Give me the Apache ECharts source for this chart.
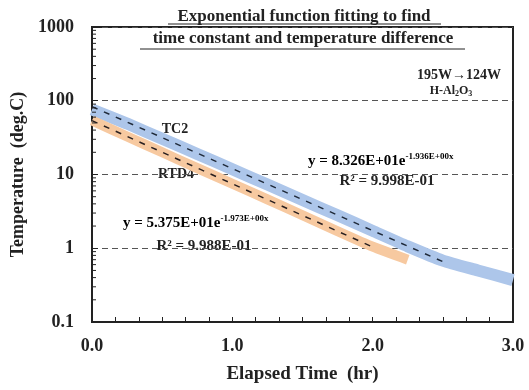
<!DOCTYPE html>
<html><head><meta charset="utf-8">
<script src="https://cdn.jsdelivr.net/npm/echarts@6/dist/echarts.min.js"></script>
<style>html,body{margin:0;padding:0;background:#fff}#c{width:529px;height:390px}</style>
</head><body><div id="c"></div>
<script>
// Measured band data (hr, deg.C)
const tc2Times = [0, 0.25, 0.5, 0.75, 1.0, 1.25, 1.5, 1.75, 2.0, 2.25, 2.5, 2.75, 3.0];
const tc2Temps = [76, 49, 30.5, 19, 11.8, 7.3, 4.5, 2.8, 1.72, 1.06, 0.68, 0.5, 0.37];
const rtd4Times = [0, 0.25, 0.5, 0.75, 1.0, 1.25, 1.5, 1.75, 2.0, 2.25];
const rtd4Temps = [54, 32.8, 20, 12.2, 7.5, 4.6, 2.8, 1.7, 1.05, 0.7];
// Fit lines (straight on log axis): endpoints
const tc2FitTimes = [0, 2.54];
const tc2FitTemps = [83.26, 0.61];
const rtd4FitTimes = [0, 2.02];
const rtd4FitTemps = [53.75, 1.0];
// Axis ticks
const yMajor = [0.1, 1, 10, 100, 1000];
const yMinorMult = [2, 3, 4, 5, 6, 7, 8, 9];
const xLabels = ['0.0', '1.0', '2.0', '3.0'];

const zip = (a, b) => a.map((v, i) => [v, b[i]]);
const minorVals = [];
yMajor.slice(0, -1).forEach(d => yMinorMult.forEach(m => minorVals.push([0, +(d * m).toPrecision(3)])));

const serif = '"Liberation Serif", "Times New Roman", serif';
const chart = echarts.init(document.getElementById('c'), null, {renderer: 'canvas'});
const eqRich = {
  b: {fontFamily: serif, fontWeight: 'bold', fontSize: 15, color: '#222'},
  s: {fontFamily: serif, fontWeight: 'bold', fontSize: 9, color: '#222', verticalAlign: 'top', padding: [0, 0, 9, 0]}
};
const txt = (size, extra) => Object.assign({fontFamily: serif, fontWeight: 'bold', fontSize: size, fill: '#222', align: 'center', verticalAlign: 'middle'}, extra || {});
chart.setOption({
  animation: false,
  grid: {left: 92, top: 27, right: 16, bottom: 68, show: true, borderColor: '#222', borderWidth: 2, backgroundColor: 'transparent'},
  xAxis: {
    type: 'value', min: 0, max: 3, interval: 1,
    name: 'Elapsed Time  (hr)', nameLocation: 'middle', nameGap: 43,
    nameTextStyle: {fontFamily: serif, fontWeight: 'bold', fontSize: 19, color: '#222'},
    axisLine: {lineStyle: {color: '#222', width: 2}},
    axisTick: {inside: true, length: 5, lineStyle: {color: '#222'}},
    minorTick: {show: true, splitNumber: 6, length: 5, lineStyle: {color: '#222'}},
    splitLine: {show: false},
    axisLabel: {margin: 15, fontFamily: serif, fontWeight: 'bold', fontSize: 18, color: '#222',
      formatter: v => xLabels[Math.round(v)]}
  },
  yAxis: {
    type: 'log', logBase: 10, min: 0.1, max: 1000,
    name: 'Temperature  (deg.C)', nameLocation: 'middle', nameGap: 59,
    nameTextStyle: {fontFamily: serif, fontWeight: 'bold', fontSize: 18, color: '#222'},
    axisLine: {show: true, lineStyle: {color: '#222', width: 2}},
    axisTick: {show: true, inside: true, length: 6, lineStyle: {color: '#222'}},
    splitLine: {show: true, lineStyle: {color: '#555', type: [6, 4], width: 1}},
    axisLabel: {margin: 18, fontFamily: serif, fontWeight: 'bold', fontSize: 18, color: '#222',
      formatter: v => String(+v.toPrecision(3))}
  },
  series: [
    {type: 'custom', data: minorVals, silent: true, z: 5,
      renderItem: (params, api) => {
        const p = api.coord([api.value(0), api.value(1)]);
        return {type: 'line', shape: {x1: p[0], y1: p[1], x2: p[0] + 4, y2: p[1]}, style: {stroke: '#222', lineWidth: 1}};
      }},
    {type: 'line', data: zip(tc2Times, tc2Temps), showSymbol: false, smooth: 0.2,
      lineStyle: {color: '#adc6ea', width: 12, cap: 'butt', join: 'round'}},
    {type: 'line', data: zip(rtd4Times, rtd4Temps), showSymbol: false, smooth: 0.2,
      lineStyle: {color: '#f7c9a0', width: 10, cap: 'butt', join: 'round'}},
    {type: 'line', data: zip(tc2FitTimes, tc2FitTemps), showSymbol: false,
      lineStyle: {color: '#1f2a3a', width: 1.5, type: [6, 7]}},
    {type: 'line', data: zip(rtd4FitTimes, rtd4FitTemps), showSymbol: false,
      lineStyle: {color: '#2a2020', width: 1.5, type: [6, 7]}}
  ],
  graphic: [
    {type: 'text', x: 304, y: 17, z: 10, style: txt(17, {text: 'Exponential function fitting to find'})},
    {type: 'text', x: 303, y: 39, z: 10, style: txt(17, {text: 'time constant and temperature difference'})},
    {type: 'line', shape: {x1: 168, y1: 24, x2: 441, y2: 24}, style: {stroke: '#222', lineWidth: 1}},
    {type: 'line', shape: {x1: 140, y1: 49, x2: 465, y2: 49}, style: {stroke: '#222', lineWidth: 1}},
    {type: 'text', x: 459, y: 75, style: txt(14, {text: '195W\u2192124W'})},
    {type: 'text', x: 451, y: 91, style: txt(12, {text: 'H-Al{s|2}O{s|3}',
      rich: {s: {fontFamily: serif, fontWeight: 'bold', fontSize: 8, padding: [6, 0, 0, 0]}}})},
    {type: 'text', x: 175, y: 129, style: txt(14, {text: 'TC2'})},
    {type: 'text', x: 176, y: 174, style: txt(14, {text: 'RTD4'})},
    {type: 'text', x: 308, y: 161, style: {text: '{b|y = 8.326E+01e}{s|-1.936E+00x}', rich: eqRich, verticalAlign: 'middle'}},
    {type: 'text', x: 387, y: 181, style: txt(15, {text: 'R\u00b2 = 9.998E-01'})},
    {type: 'text', x: 123, y: 223, style: {text: '{b|y = 5.375E+01e}{s|-1.973E+00x}', rich: eqRich, verticalAlign: 'middle'}},
    {type: 'text', x: 204, y: 246, style: txt(15, {text: 'R\u00b2 = 9.988E-01'})}
  ]
});
</script></body></html>
